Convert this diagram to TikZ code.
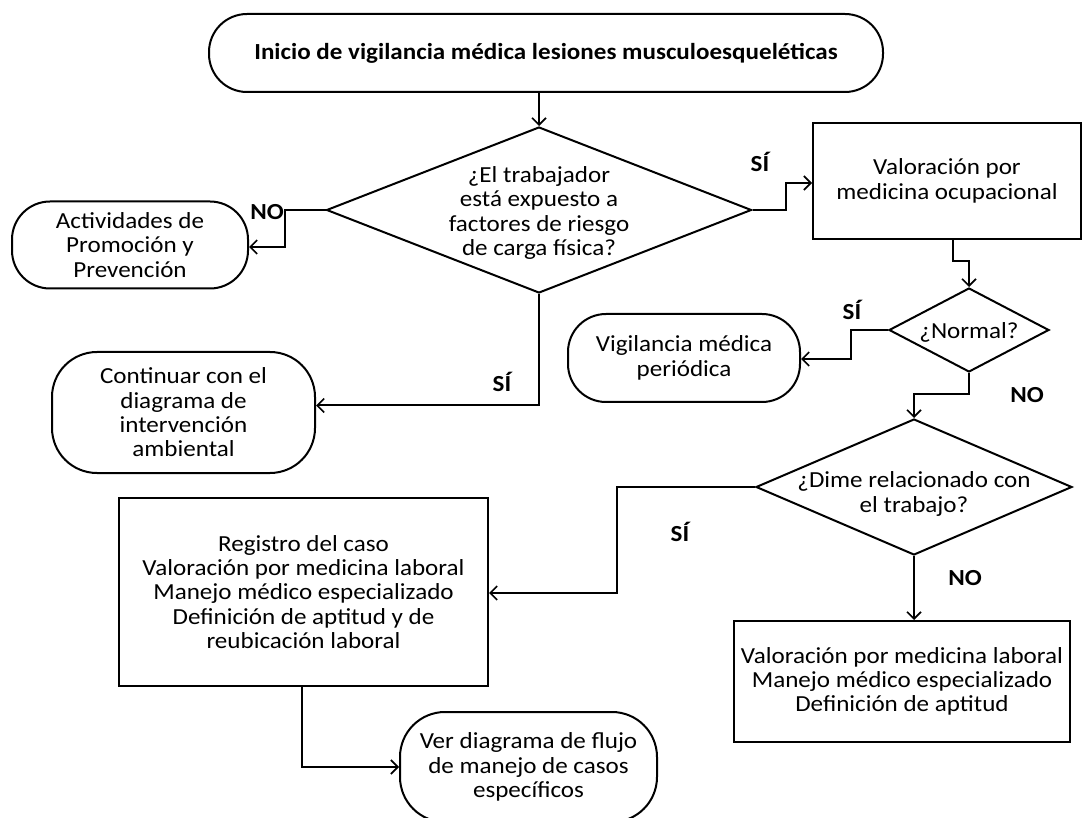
\documentclass[tikz,border=0pt]{standalone}
\usepackage{fontspec}
\setmainfont{Carlito}[FakeStretch=1.09]
\usetikzlibrary{arrows.meta,shapes.geometric}
\begin{document}
\begin{tikzpicture}[x=1pt,y=-1pt,
  every node/.style={font=\fontsize{23}{24.3}\selectfont, align=center, inner sep=0pt},
  base/.style={draw, line width=2pt},
  term/.style={base, rectangle, rounded corners=38pt},
  boxx/.style={base, rectangle},
  dec/.style={base, diamond},
  lab/.style={font=\fontsize{23}{24}\selectfont\bfseries},
  conn/.style={line width=2pt, -{Straight Barb[length=7pt,width=14pt,line width=1.6pt]}},
  line/.style={line width=2pt}
]
\useasboundingbox (0,0) rectangle (1085,818);

\node[term, minimum width=674pt, minimum height=78pt] (start) at (546,53)
  {\bfseries Inicio de vigilancia médica lesiones musculoesqueléticas};

\node[dec, minimum width=425pt, minimum height=166pt,
  label={[yshift=-3pt]center:{¿El trabajador\\está expuesto a\\factores de riesgo\\de carga física?}}] (d1) at (539,210) {};

\node[term, minimum width=236pt, minimum height=87pt] (act) at (130,245)
  {Actividades de\\Promoción y\\Prevención};

\node[term, rounded corners=45pt, minimum width=263pt, minimum height=121pt] (cont) at (183.5,412.5)
  {Continuar con el\\diagrama de\\intervención\\ambiental};

\node[boxx, minimum width=268pt, minimum height=116pt] (val) at (947,181)
  {Valoración por\\medicina ocupacional};

\node[dec, minimum width=160pt, minimum height=84pt,
  label={[yshift=-2pt]center:{¿Normal?}}] (d2) at (969,330) {};

\node[term, minimum width=232pt, minimum height=88pt] (vig) at (684,358)
  {Vigilancia médica\\periódica};

\node[dec, minimum width=316pt, minimum height=136pt,
  label={[yshift=-7pt]center:{¿Dime relacionado con\\el trabajo?}}] (d3) at (914,487) {};

\node[boxx, minimum width=336pt, minimum height=121pt] (nob) at (902,681.5)
  {Valoración por medicina laboral\\Manejo médico especializado\\Definición de aptitud};

\node[boxx, minimum width=369pt, minimum height=188pt] (reg) at (303.5,592)
  {Registro del caso\\Valoración por medicina laboral\\Manejo médico especializado\\Definición de aptitud y de\\reubicación laboral};

\node[term, rounded corners=45pt, minimum width=257pt, minimum height=110pt] (ver) at (528.5,767)
  {Ver diagrama de flujo\\de manejo de casos\\específicos};

% connectors
\draw[conn] (start.south -| d1.north) -- (d1.north);
\draw[conn] (d1.west) -- ++(-41,0) |- ([yshift=-2pt]act.east);
\draw[conn] (d1.east) -- ++(33,0) |- ([yshift=-2pt]val.west);
\draw[conn] (d1.south) |- ([yshift=7pt]cont.east);
\draw[conn] ([xshift=6pt]val.south) -- ++(0,21) -| (d2.north);
\draw[conn] (d2.west) -- ++(-37,0) |- ([yshift=-1pt]vig.east);
\draw[conn] (d2.south) -- ++(0,21) -| (d3.north);
\draw[conn] (d3.west) -- ++(-138,0) |- ([yshift=-1pt]reg.east);
\draw[conn] (d3.south) -- (d3.south |- nob.north);
\draw[conn] ([xshift=-1.5pt]reg.south) |- (ver.west);

% labels
\node[lab] (l1) at (267,212) {NO};
\node[lab] (l2) at (760,162) {SÍ};
\node[lab] (l3) at (852,310) {SÍ};
\node[lab] (l4) at (1027,395) {NO};
\node[lab] (l5) at (502,382) {SÍ};
\node[lab] (l6) at (680,532) {SÍ};
\node[lab] (l7) at (965,578) {NO};
\end{tikzpicture}
\end{document}
